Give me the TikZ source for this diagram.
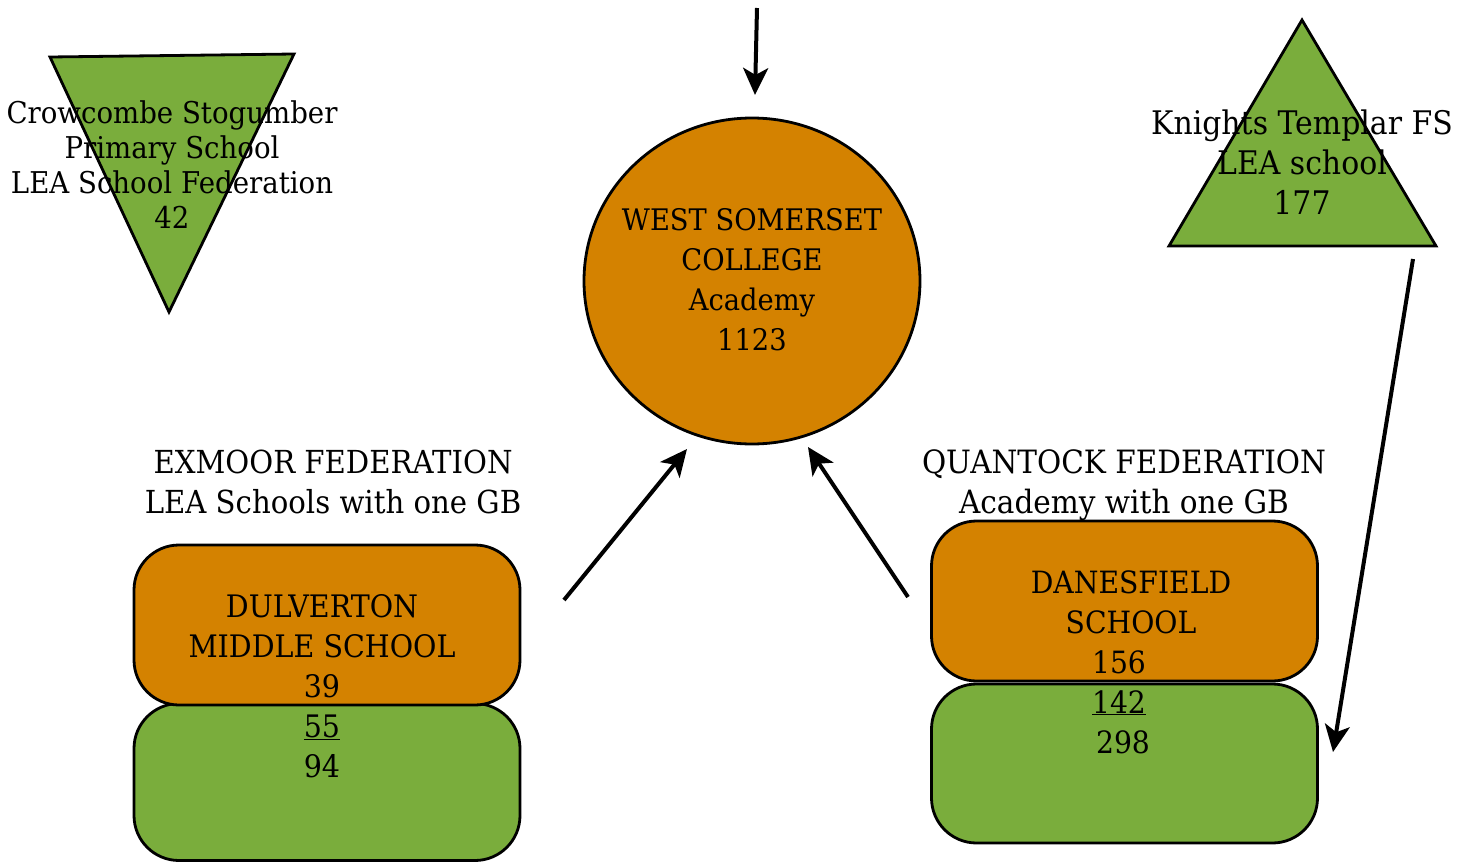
\documentclass[tikz,border=0pt]{standalone}
\usepackage{fontspec}
\setmainfont{DejaVu Serif}[FakeStretch=0.92]
\usetikzlibrary{arrows.meta,shapes.geometric}
\definecolor{lgreen}{RGB}{122,173,60}
\definecolor{lorange}{RGB}{212,130,0}
\begin{document}
\begin{tikzpicture}[x=1pt,y=-1pt,
  box/.style={draw=black,line width=2.8pt,rounded corners=45pt,inner sep=0pt,minimum width=386pt,minimum height=160pt},
  tri/.style={draw=black,line width=2.8pt,fill=lgreen,line join=miter},
  txt/.style={align=center,inner sep=0pt,font=\fontsize{30}{40}\selectfont},
  arr/.style={line width=4pt,-{Stealth[length=27pt,width=25pt,inset=7pt]}}]
\useasboundingbox (0,0) rectangle (1473,862);
% triangles
\coordinate (lt1) at (50,57); \coordinate (lt2) at (294,54); \coordinate (lt3) at (169,312);
\draw[tri] (lt1) -- (lt2) -- (lt3) -- cycle;
\coordinate (rt1) at (1302,20); \coordinate (rt2) at (1436,246); \coordinate (rt3) at (1169,246);
\draw[tri] (rt1) -- (rt2) -- (rt3) -- cycle;
\node[txt,font=\fontsize{30}{35}\selectfont] (crow) at (172,165) {Crowcombe Stogumber\\Primary School\\LEA School Federation\\42};
\node[txt,font=\fontsize{32.5}{40}\selectfont] (knights) at (1302,162) {Knights Templar FS\\LEA school\\177};
% college
\node[ellipse,draw=black,line width=2.8pt,fill=lorange,minimum width=336pt,minimum height=326pt,inner sep=0pt] (wsc) at (752,281) {};
\node[txt,font=\fontsize{29.7}{40}\selectfont] (wsctext) at (752,280) {WEST SOMERSET\\COLLEGE\\Academy\\1123};
% federation labels
\node[txt,font=\fontsize{31.7}{40}\selectfont] (exmoor) at (333,482) {EXMOOR FEDERATION\\LEA Schools with one GB};
\node[txt,font=\fontsize{32.1}{40}\selectfont] (quantock) at (1124,485) {QUANTOCK FEDERATION\\Academy with one GB};
% boxes
\node[box,fill=lgreen,minimum height=157pt] (dulg) at (327,782) {};
\node[box,fill=lorange] (dulo) at (327,625) {};
\node[box,fill=lorange] (danesfo) at (1124.5,601) {};
\node[box,fill=lgreen,minimum height=159pt] (danesfg) at (1124.5,763.5) {};
\node[txt,font=\fontsize{31}{40}\selectfont] (dultext) at (322,686) {DULVERTON\\MIDDLE SCHOOL\\39\\\underline{55}\\94};
\node[txt,font=\fontsize{30.7}{40}\selectfont] (danesname) at (1131,602) {DANESFIELD\\SCHOOL};
\node[txt,font=\fontsize{30.7}{40}\selectfont] (danesnum) at (1119,702) {156\\\underline{142}\\\hspace{8pt}298};
% arrows
\coordinate (topstart) at (757,8); \coordinate (topend) at (755,95);
\draw[arr] (topstart) -- (topend);
\coordinate (exs) at (564,600); \coordinate (exe) at (687,449);
\draw[arr] (exs) -- (exe);
\coordinate (qus) at (908,597); \coordinate (que) at (808,447);
\draw[arr] (qus) -- (que);
\coordinate (kns) at (1413,259); \coordinate (kne) at (1333,752);
\draw[arr] (kns) -- (kne);
\end{tikzpicture}
\end{document}
